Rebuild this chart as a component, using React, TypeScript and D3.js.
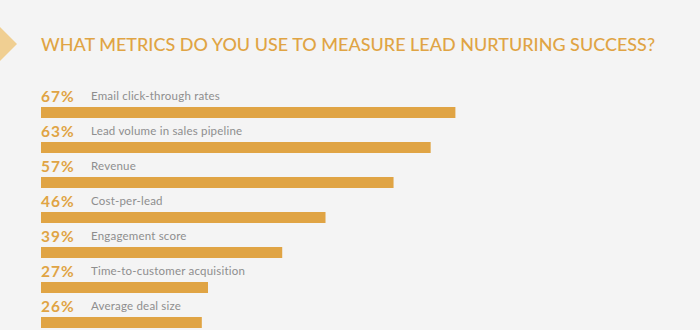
import React from "react";
import * as d3 from "d3";

const categories = [
  "Email click-through rates",
  "Lead volume in sales pipeline",
  "Revenue",
  "Cost-per-lead",
  "Engagement score",
  "Time-to-customer acquisition",
  "Average deal size",
];
const values = [67, 63, 57, 46, 39, 27, 26];
const title = "WHAT METRICS DO YOU USE TO MEASURE LEAD NURTURING SUCCESS?";

const W = 700;
const H = 330;
const GOLD = "#e0a444";

export default function App() {
  const x = d3.scaleLinear().domain([0, 100]).range([41, 659.5]);
  const y = d3.scaleBand<string>().domain(categories).range([80, 325]).paddingInner(0);
  const font = "Lato, 'Open Sans', sans-serif";
  return (
    <svg width={W} height={H} style={{ position: "absolute", left: 0, top: 0, display: "block" }}>
      <rect x={0} y={0} width={W} height={H} fill="#f4f4f4" />
      <path d="M0,27 L17,44 L0,61 Z" fill="#f0cf92" />
      <text
        x={41}
        y={51}
        fill={GOLD}
        fontFamily={font}
        fontSize={16.5}
        fontWeight={500}
        textLength={614}
        lengthAdjust="spacingAndGlyphs"
      >
        {title}
      </text>
      {categories.map((c, i) => {
        const y0 = y(c) as number;
        return (
          <g key={c}>
            <text x={41} y={y0 + 22} fill={GOLD} fontFamily={font} fontWeight={700} fontSize={15.5} letterSpacing={1}>
              {values[i]}%
            </text>
            <text x={91} y={y0 + 20} fill="#8e8e8e" fontFamily={font} fontSize={11.5} letterSpacing={0.2}>
              {c}
            </text>
            <rect x={x(0)} y={y0 + 27} width={x(values[i]) - x(0)} height={11} fill={GOLD} />
          </g>
        );
      })}
    </svg>
  );
}
